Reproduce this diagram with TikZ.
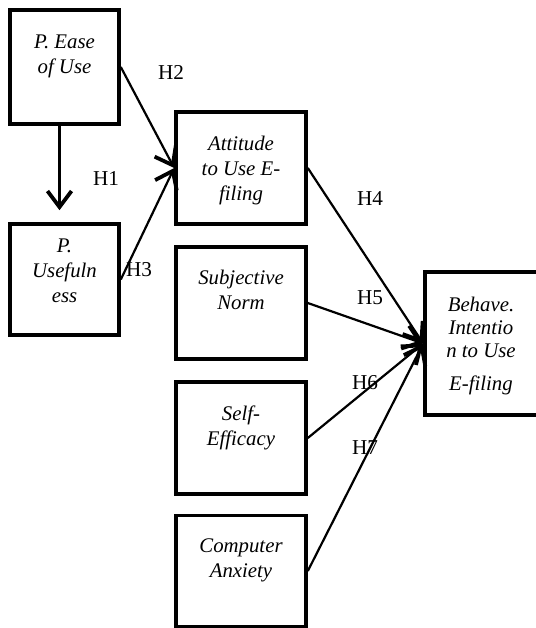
\documentclass[tikz,border=0pt]{standalone}
\usepackage{fontspec}
\setmainfont{Liberation Serif}
\usetikzlibrary{arrows.meta}

\begin{document}
\begin{tikzpicture}[
    base/.style = {rectangle, draw=black, line width=1.8pt,
minimum width=65pt, minimum height=56pt, inner sep=0pt},
factor/.style = {base, minimum width=54.5pt},
boxtext/.style = {anchor=north, inner sep=0pt, align=center,
font=\fontsize{10.4pt}{12.5pt}\selectfont\itshape},
hyp/.style = {inner sep=0pt, font=\fontsize{10.6pt}{12pt}\selectfont},
arr/.style = {line width=1.1pt, -{Straight Barb[length=8pt, width=12pt, line width=1.9pt]}},
node distance=67.5pt
]
  \useasboundingbox (0,0) rectangle (268pt,-314pt);

  \node (peou) [factor, minimum height=57pt] at (32.25pt,-33.5pt) {};
  \node (pu)   [factor, minimum height=55.5pt, below of=peou, yshift=-38.75pt] {};
  \node (attitude)   [base, right of=peou, xshift=20.75pt, yshift=-50.5pt] {};
  \node (subjective) [base, below of=attitude] {};
  \node (selfeff)    [base, below of=subjective] {};
  \node (anxiety)    [base, minimum height=55.5pt, below of=selfeff, yshift=1pt] {};
  \node (behave)     [base, minimum width=60pt, minimum height=71.5pt, right of=subjective, xshift=54.5pt, yshift=-20.25pt] {};

  \node (peoutext)   [boxtext] at ([yshift=-13pt]peou.north) {P. Ease\\of Use};
  \node (putext)     [boxtext] at ([yshift=-8pt]pu.north) {P.\\Usefuln\\ess};
  \node (atttext)    [boxtext] at ([yshift=-12.5pt]attitude.north) {Attitude\\to Use E-\\filing};
  \node (subjtext)   [boxtext] at ([yshift=-12pt]subjective.north) {Subjective\\Norm};
  \node (selftext)   [boxtext] at ([yshift=-12.5pt]selfeff.north) {Self-\\Efficacy};
  \node (anxtext)    [boxtext] at ([yshift=-12.5pt]anxiety.north) {Computer\\Anxiety};
  \node (behtext)    [boxtext, xshift=-2pt, font=\fontsize{10.4pt}{11.5pt}\selectfont\itshape] at ([yshift=-13pt]behave.north) {Behave.\\Intentio\\n to Use\\[5pt]E-filing};

  \draw[arr, line width=1.7pt, shorten >=6pt] ([xshift=-2.5pt]peou.south) -- ([xshift=-2.5pt]pu.north);
  \draw[arr]     (peou.east) -- (attitude.west);
  \draw[arr]     (pu.east) -- (attitude.west);
  \draw[arr]     (attitude.east) -- (behave.west);
  \draw[arr]     (subjective.east) -- (behave.west);
  \draw[arr]     (selfeff.east) -- (behave.west);
  \draw[arr]     (anxiety.east) -- (behave.west);

  \node (h1) [hyp] at (53pt,-89pt) {H1};
  \node (h2) [hyp] at (85.5pt,-36pt) {H2};
  \node (h3) [hyp] at (69.5pt,-135pt) {H3};
  \node (h4) [hyp] at (185pt,-99.5pt) {H4};
  \node (h5) [hyp] at (185pt,-149pt) {H5};
  \node (h6) [hyp] at (182.5pt,-191.5pt) {H6};
  \node (h7) [hyp] at (182.5pt,-224pt) {H7};

\end{tikzpicture}
\end{document}
